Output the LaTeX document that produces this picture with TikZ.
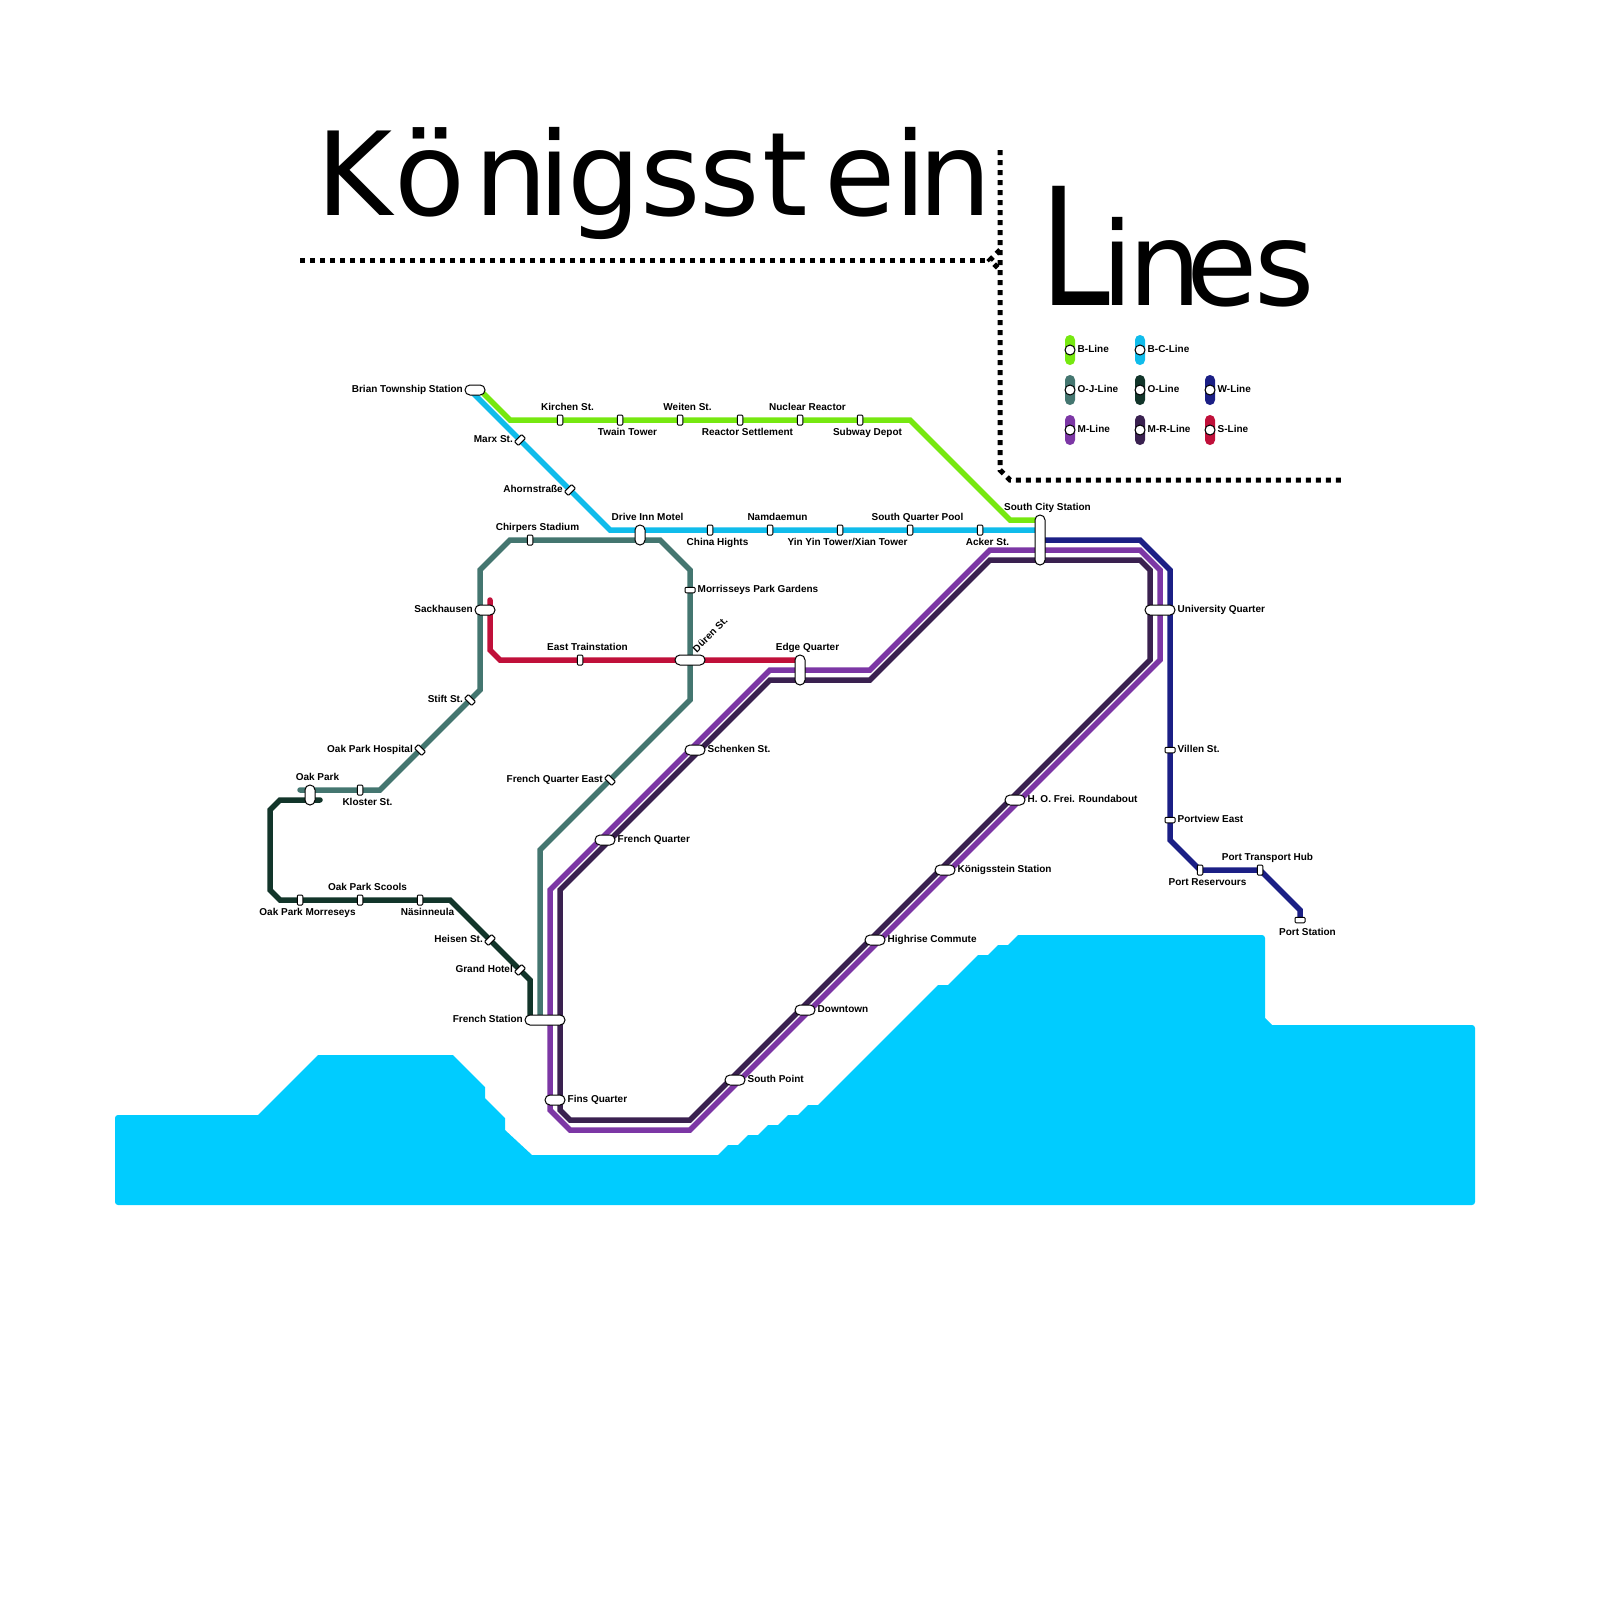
\documentclass[tikz,border=0pt]{standalone}
\usepackage{fontspec}
\setmainfont{Liberation Sans}
\newfontfamily\titlefont{DejaVu Sans}
\usetikzlibrary{backgrounds}
\definecolor{waterc}{HTML}{00CCFF}
\definecolor{bline}{HTML}{76E810}
\definecolor{bcline}{HTML}{10BCEB}
\definecolor{ojline}{HTML}{447670}
\definecolor{oline}{HTML}{12352A}
\definecolor{wline}{HTML}{1B1F85}
\definecolor{mline}{HTML}{7C37A5}
\definecolor{mrline}{HTML}{3A2150}
\definecolor{sline}{HTML}{C0103A}
\tikzset{
  metro/.style={line width=5.5pt,line cap=round},
  stn/.style={draw=black,fill=white,line width=1pt,inner sep=0pt,outer sep=0pt,rounded corners=1pt,minimum width=5.5pt,minimum height=10pt},
  stnh/.style={stn,minimum width=10pt,minimum height=5.5pt},
  stnup/.style={stn,rotate=-45},
  stndn/.style={stn,rotate=45},
  pillv/.style={stn,rounded corners=4.9pt,minimum width=10pt,minimum height=#1},
  pillh/.style={stn,rounded corners=4.9pt,minimum height=10pt,minimum width=#1},
  lbl/.style={inner sep=0pt,text height=7.5pt,text depth=2.5pt,font=\bfseries\fontsize{10}{12}\selectfont},
  lblup/.style={lbl,above=2pt,xshift=7.5pt},
  lbldn/.style={lbl,below=3pt,xshift=7.5pt},
  lblr/.style={lbl,right=2.5pt},
  lbll/.style={lbl,left=2pt},
  lbld/.style={lbl,left=7pt},
  ttl/.style={inner sep=0pt,anchor=base,font=\titlefont\fontsize{116}{116}\selectfont},
  keybar/.style={inner sep=0pt,outer sep=0pt,rounded corners=4.9pt,minimum width=10pt,minimum height=30pt,fill=#1},
  keydot/.style={draw=black,fill=white,line width=1pt,circle,inner sep=0pt,outer sep=0pt,minimum size=10pt},
  dots/.style={line width=5pt,dash pattern=on 5pt off 5pt}
}
\begin{document}
\begin{tikzpicture}[x=1pt,y=-1pt]
\path[use as bounding box] (0,0) rectangle (1600,1600);
\node[ttl] (tk) at (355,215) {K};
\node[ttl] (to) at (430,215) {ö};
\node[ttl] (tn) at (511,215) {n};
\node[ttl] (ti) at (555,215) {i};
\node[ttl] (tg) at (604,215) {g};
\node[ttl] (ts) at (671,215) {s};
\node[ttl] (tss) at (730,215) {s};
\node[ttl] (tt) at (785,215) {t};
\node[ttl] (te) at (860,215) {e};
\node[ttl] (tii) at (911,215) {i};
\node[ttl] (tnn) at (955,215) {n};
\node[ttl] (ll) at (1075,305) {\scalebox{1.08}[1.41]{L}};
\node[ttl] (li) at (1118,305) {i};
\node[ttl] (ln) at (1165,305) {n};
\node[ttl] (le) at (1222,305) {e};
\node[ttl] (ls) at (1285,305) {s};
\node[keybar=bline] (kb) at (1070,350) {};
\node[keybar=bcline] (kbc) at (1140,350) {};
\node[keybar=ojline] (koj) at (1070,390) {};
\node[keybar=oline] (ko) at (1140,390) {};
\node[keybar=wline] (kw) at (1210,390) {};
\node[keybar=mline] (km) at (1070,430) {};
\node[keybar=mrline] (kmr) at (1140,430) {};
\node[keybar=sline] (ks) at (1210,430) {};
\node[keydot] (kdb) at (kb) {};
\node[keydot] (kdbc) at (kbc) {};
\node[keydot] (kdoj) at (koj) {};
\node[keydot] (kdo) at (ko) {};
\node[keydot] (kdw) at (kw) {};
\node[keydot] (kdm) at (km) {};
\node[keydot] (kdmr) at (kmr) {};
\node[keydot] (kds) at (ks) {};
\node[lblr] (kbl) at (kdb.east) {B-Line};
\node[lblr] (kbcl) at (kdbc.east) {B-C-Line};
\node[lblr] (kojl) at (kdoj.east) {O-J-Line};
\node[lblr] (kol) at (kdo.east) {O-Line};
\node[lblr] (kwl) at (kdw.east) {W-Line};
\node[lblr] (kml) at (kdm.east) {M-Line};
\node[lblr] (kmrl) at (kdmr.east) {M-R-Line};
\node[lblr] (ksl) at (kds.east) {S-Line};
\node[pillh=20pt] (brian) at (475,390) {};
\node[lbll] (brianl) at (brian.west) {Brian Township Station};
\node[stn] (kirchen) at (560,420) {};
\node[lblup] (kirchenl) at (kirchen.north) {Kirchen St.};
\node[stn] (twain) at (620,420) {};
\node[lbldn] (twainl) at (twain.south) {Twain Tower};
\node[stn] (weiten) at (680,420) {};
\node[lblup] (weitenl) at (weiten.north) {Weiten St.};
\node[stn] (settle) at (740,420) {};
\node[lbldn] (settlel) at (settle.south) {Reactor Settlement};
\node[stn] (nuclear) at (800,420) {};
\node[lblup] (nuclearl) at (nuclear.north) {Nuclear Reactor};
\node[stn] (depot) at (860,420) {};
\node[lbldn] (depotl) at (depot.south) {Subway Depot};
\node[stnup] (marx) at (520,440) {};
\node[lbld] (marxl) at (marx.center) {Marx St.};
\node[stnup] (ahorn) at (570,490) {};
\node[lbld] (ahornl) at (ahorn.center) {Ahornstraße};
\node[pillv=20pt] (drive) at (640,535) {};
\node[lblup] (drivel) at (drive.north) {Drive Inn Motel};
\node[stn] (china) at (710,530) {};
\node[lbldn] (chinal) at (china.south) {China Hights};
\node[stn] (namdae) at (770,530) {};
\node[lblup] (namdael) at (namdae.north) {Namdaemun};
\node[stn] (yinyin) at (840,530) {};
\node[lbldn] (yinyinl) at (yinyin.south) {Yin Yin Tower/Xian Tower};
\node[stn] (pool) at (910,530) {};
\node[lblup] (pooll) at (pool.north) {South Quarter Pool};
\node[stn] (acker) at (980,530) {};
\node[lbldn] (ackerl) at (acker.south) {Acker St.};
\node[pillv=50pt] (southcity) at (1040,540) {};
\node[lblup] (southcityl) at (southcity.north) {South City Station};
\node[stn] (chirpers) at (530,540) {};
\node[lblup] (chirpersl) at (chirpers.north) {Chirpers Stadium};
\node[stnh] (morris) at (690,590) {};
\node[lblr] (morrisl) at (morris.east) {Morrisseys Park Gardens};
\node[pillh=20pt] (sack) at (485,610) {};
\node[lbll] (sackl) at (sack.west) {Sackhausen};
\node[pillh=30pt] (duren) at (690,660) {};
\node[lbl,rotate=45,anchor=west,xshift=6pt,yshift=-1pt] (durenl) at (duren.north) {Düren St.};
\node[stn] (trainst) at (580,660) {};
\node[lblup] (trainstl) at (trainst.north) {East Trainstation};
\node[pillv=30pt] (edge) at (800,670) {};
\node[lblup] (edgel) at (edge.north) {Edge Quarter};
\node[stndn] (stift) at (470,700) {};
\node[lbld] (stiftl) at (stift.center) {Stift St.};
\node[stndn] (hospital) at (420,750) {};
\node[lbld] (hospitall) at (hospital.center) {Oak Park Hospital};
\node[stn] (kloster) at (360,790) {};
\node[lbldn] (klosterl) at (kloster.south) {Kloster St.};
\node[pillv=20pt] (oakpark) at (310,795) {};
\node[lblup] (oakparkl) at (oakpark.north) {Oak Park};
\node[stndn] (fqeast) at (610,780) {};
\node[lbld] (fqeastl) at (fqeast.center) {French Quarter East};
\node[stn] (morres) at (300,900) {};
\node[lbldn] (morresl) at (morres.south) {Oak Park Morreseys};
\node[stn] (scools) at (360,900) {};
\node[lblup] (scoolsl) at (scools.north) {Oak Park Scools};
\node[stn] (nasin) at (420,900) {};
\node[lbldn] (nasinl) at (nasin.south) {Näsinneula};
\node[stnup] (heisen) at (490,940) {};
\node[lbld] (heisenl) at (heisen.center) {Heisen St.};
\node[stnup] (grand) at (520,970) {};
\node[lbld] (grandl) at (grand.center) {Grand Hotel};
\node[pillh=40pt] (french) at (545,1020) {};
\node[lbll] (frenchl) at (french.west) {French Station};
\node[pillh=20pt] (fins) at (555,1100) {};
\node[lblr] (finsl) at (fins.east) {Fins Quarter};
\node[pillh=20pt] (fquarter) at (605,840) {};
\node[lblr] (fquarterl) at (fquarter.east) {French Quarter};
\node[pillh=20pt] (schenken) at (695,750) {};
\node[lblr] (schenkenl) at (schenken.east) {Schenken St.};
\node[pillh=20pt] (southpt) at (735,1080) {};
\node[lblr] (southptl) at (southpt.east) {South Point};
\node[pillh=20pt] (downtown) at (805,1010) {};
\node[lblr] (downtownl) at (downtown.east) {Downtown};
\node[pillh=20pt] (highrise) at (875,940) {};
\node[lblr] (highrisel) at (highrise.east) {Highrise Commute};
\node[pillh=20pt] (konig) at (945,870) {};
\node[lblr] (konigl) at (konig.east) {Königsstein Station};
\node[pillh=20pt] (frei) at (1015,800) {};
\node[lblr] (freil) at (frei.east) {H. O. Frei. Roundabout};
\node[pillh=30pt] (univ) at (1160,610) {};
\node[lblr] (univl) at (univ.east) {University Quarter};
\node[stnh] (villen) at (1170,750) {};
\node[lblr] (villenl) at (villen.east) {Villen St.};
\node[stnh] (portview) at (1170,820) {};
\node[lblr] (portviewl) at (portview.east) {Portview East};
\node[stn] (reserv) at (1200,870) {};
\node[lbldn] (reservl) at (reserv.south) {Port Reservours};
\node[stn] (hub) at (1260,870) {};
\node[lblup] (hubl) at (hub.north) {Port Transport Hub};
\node[stnh] (portst) at (1300,920) {};
\node[lbldn,below=2pt] (portstl) at (portst.south) {Port Station};
\begin{scope}[on background layer]
\fill[waterc] (115,1160) [rounded corners=3pt] -- (115,1115) [sharp corners] -- (258,1115) -- (318,1055) -- (453,1055) -- (485,1087) -- (485,1098) -- (505,1118) -- (505,1130) -- (532,1155) -- (718,1155) -- (728,1145) -- (738,1145) -- (748,1135) -- (758,1135) -- (768,1125) -- (778,1125) -- (788,1115) -- (798,1115) -- (808,1105) -- (818,1105) -- (938,985) -- (948,985) -- (978,955) -- (988,955) -- (998,945) -- (1008,945) -- (1018,935) [rounded corners=3pt] -- (1265,935) [sharp corners] -- (1265,1018) -- (1272,1025) [rounded corners=3pt] -- (1475,1025) -- (1475,1205) -- (115,1205) -- cycle;
\draw[dots] (300,260) -- (990,260);
\draw[dots] (1000,250) -- (990,260) -- (1000,270);
\draw[dots] (1000,150) -- (1000,470) -- (1010,480) -- (1342,480);
\draw[metro,bcline] ([xshift=-5pt]brian.center) -- (610,530) -- (southcity.center |- 610,530);
\draw[metro,bline] ([xshift=5pt]brian.center) -- (510,420) -- (910,420) -- (1010,520) -- (southcity.center |- 1010,520);
\draw[metro,ojline] (french.center -| 540,0) -- (540,850) -- (690,700) -- (690,570) -- (660,540) -- (510,540) -- (480,570) -- (480,690) -- (380,790) -- (300,790);
\draw[metro,oline] (320,800) -- (280,800) -- (270,810) -- (270,890) -- (280,900) -- (450,900) -- (530,980) -- (french.center -| 530,0);
\draw[metro,sline] (490,600) -- (490,650) -- (500,660) -- (edge.center |- 500,660);
\draw[metro,wline] (southcity.center) -- (1140,540) -- (1170,570) -- (1170,840) -- (1200,870) -- (1260,870) -- (1300,910) -- (portst.center);
\draw[metro,mline] (southcity.center |- 990,550) -- (990,550) -- (870,670) -- (770,670) -- (550,890) -- (550,1110) -- (570,1130) -- (690,1130) -- (1160,660) -- (1160,570) -- (1140,550) -- cycle;
\draw[metro,mrline] (southcity.center |- 990,560) -- (990,560) -- (870,680) -- (770,680) -- (560,890) -- (560,1110) -- (570,1120) -- (690,1120) -- (1150,660) -- (1150,570) -- (1140,560) -- cycle;
\end{scope}
\end{tikzpicture}
\end{document}
